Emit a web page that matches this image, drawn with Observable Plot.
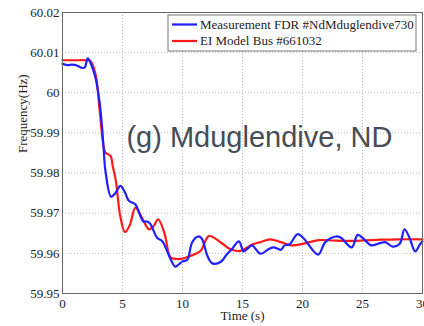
<!DOCTYPE html>
<html>
<head>
<meta charset="utf-8">
<script src="https://cdn.jsdelivr.net/npm/d3@7"></script>
<script src="https://cdn.jsdelivr.net/npm/@observablehq/plot@0.6"></script>
<style>
  html, body { margin: 0; padding: 0; background: #fff; }
  #chart svg { display: block; }
</style>
</head>
<body>
<div id="chart"></div>
<script>
// Frequency response at Mduglendive, ND: FDR measurement vs. EI model bus
const seriesNames = ["Measurement FDR #NdMduglendive730", "EI Model Bus #661032"];
const seriesColors = ["#1f1fff", "#ff1a1a"];

const measTime = [0, 0.4, 0.8, 1.2, 1.6, 1.85, 2.1, 2.33, 2.75, 3.08, 3.3, 3.44, 3.58, 4.05, 4.4, 4.83, 5.2, 5.53, 6.08, 6.72, 7.1, 7.33, 7.9, 8.3, 9.0, 9.4, 10.0, 10.4, 10.8, 11.3, 11.6, 12.1, 12.5, 13.2, 13.7, 14.1, 14.7, 15.1, 15.5, 15.8, 16.5, 17.2, 17.6, 18.2, 18.5, 18.9, 19.6, 20.1, 21.3, 21.9, 22.8, 23.2, 24.1, 24.6, 25.1, 25.7, 26.4, 26.9, 27.5, 28.1, 28.5, 28.9, 29.4, 29.8, 30];
const measFreq = [60.0072, 60.0069, 60.0070, 60.0068, 60.0062, 60.0063, 60.0086, 60.0075, 60.0037, 59.9979, 59.9913, 59.9855, 59.9805, 59.9741, 59.9750, 59.9768, 59.9752, 59.9731, 59.9722, 59.9680, 59.9679, 59.9673, 59.9638, 59.9631, 59.9586, 59.9567, 59.9580, 59.9584, 59.9627, 59.9642, 59.9637, 59.9592, 59.9575, 59.9579, 59.9598, 59.9610, 59.9630, 59.9605, 59.9614, 59.9620, 59.9599, 59.9611, 59.9615, 59.9609, 59.9620, 59.9622, 59.9648, 59.9637, 59.9597, 59.9628, 59.9642, 59.9639, 59.9615, 59.9646, 59.9636, 59.9620, 59.9625, 59.9628, 59.9617, 59.9624, 59.9660, 59.9640, 59.9605, 59.9623, 59.9630];

const modelTime = [0, 1, 2, 2.3, 2.75, 3.08, 3.36, 3.58, 4.0, 4.2, 4.45, 4.8, 5.2, 5.6, 6.08, 6.6, 7.2, 7.6, 7.97, 8.5, 9.0, 9.5, 10.0, 10.7, 11.5, 12.2, 13.2, 14.0, 14.8, 15.9, 16.5, 17.3, 18.2, 19.1, 20.2, 21.4, 22.5, 23.6, 25, 26.5, 28, 30];
const modelFreq = [60.0081, 60.0081, 60.0081, 60.0080, 60.0047, 59.9962, 59.9880, 59.9851, 59.9843, 59.9815, 59.9780, 59.9695, 59.9653, 59.9670, 59.9714, 59.9690, 59.9660, 59.9668, 59.9685, 59.9650, 59.9590, 59.9586, 59.9587, 59.9594, 59.9606, 59.9643, 59.9627, 59.9610, 59.9606, 59.9623, 59.9628, 59.9635, 59.9628, 59.9620, 59.9625, 59.9633, 59.9632, 59.9631, 59.9632, 59.9634, 59.9635, 59.9635];

const xTicks = [0, 5, 10, 15, 20, 25, 30];
const yTicks = [59.95, 59.96, 59.97, 59.98, 59.99, 60, 60.01, 60.02];
const xLabel = "Time (s)";
const yLabel = "Frequency(Hz)";
const panelLabel = "(g) Mduglendive, ND";
const panelAt = { t: 5.33, f: 59.9865 };

const meas = measTime.map((t, i) => ({ t, f: measFreq[i] }));
const model = modelTime.map((t, i) => ({ t, f: modelFreq[i] }));

const serif = "'Liberation Serif', 'Times New Roman', serif";

const chart = Plot.plot({
  width: 424,
  height: 326,
  marginLeft: 62,
  marginRight: 2,
  marginTop: 12,
  marginBottom: 33,
  style: { fontFamily: serif, fontSize: "13px", color: "#222", background: "#fff", overflow: "visible" },
  x: { domain: [0, 30] },
  y: { domain: [59.95, 60.02] },
  marks: [
    Plot.gridX(xTicks, { stroke: "#bbb", strokeOpacity: 1, strokeDasharray: "1,2" }),
    Plot.gridY(yTicks, { stroke: "#bbb", strokeOpacity: 1, strokeDasharray: "1,2" }),
    Plot.axisX(xTicks, { tickSize: 0, tickPadding: 5, label: null, fontSize: 13 }),
    Plot.axisY(yTicks, { tickSize: 0, tickPadding: 3, label: null, fontSize: 13,
      tickFormat: d => String(+d.toFixed(2)) }),
    Plot.line(model, { x: "t", y: "f", stroke: seriesColors[1], strokeWidth: 2.2, curve: "catmull-rom" }),
    Plot.line(meas, { x: "t", y: "f", stroke: seriesColors[0], strokeWidth: 2.2, curve: "catmull-rom" }),
    Plot.frame({ stroke: "#666", strokeWidth: 1 }),
    Plot.text([xLabel], { frameAnchor: "bottom", dy: 26, text: d => d, fontSize: 13, fill: "#222" }),
    Plot.text([yLabel], { frameAnchor: "left", dx: -40, rotate: -90, text: d => d, fontSize: 13, fill: "#222" }),
    Plot.text([panelLabel], { x: () => panelAt.t, y: () => panelAt.f, text: d => d,
      textAnchor: "start", lineAnchor: "bottom", fontSize: 29,
      fontFamily: "'Liberation Sans', Arial, sans-serif", fill: "#474c56" })
  ]
});

document.getElementById("chart").appendChild(chart);

// legend box in the upper right of the plotting area
const svg = d3.select(chart);
const lg = svg.append("g").attr("transform", "translate(168,15)");
lg.append("rect").attr("width", 248).attr("height", 36)
  .attr("fill", "#fff").attr("stroke", "#777").attr("stroke-width", 1);
seriesNames.forEach((name, i) => {
  const y = 9.5 + i * 16.5;
  lg.append("line").attr("x1", 4).attr("x2", 29).attr("y1", y).attr("y2", y)
    .attr("stroke", seriesColors[i]).attr("stroke-width", 2.2);
  lg.append("text").attr("x", 32).attr("y", y + 4.2)
    .attr("text-anchor", "start")
    .attr("font-family", serif).attr("font-size", 13).attr("fill", "#222")
    .text(name);
});
</script>
</body>
</html>
